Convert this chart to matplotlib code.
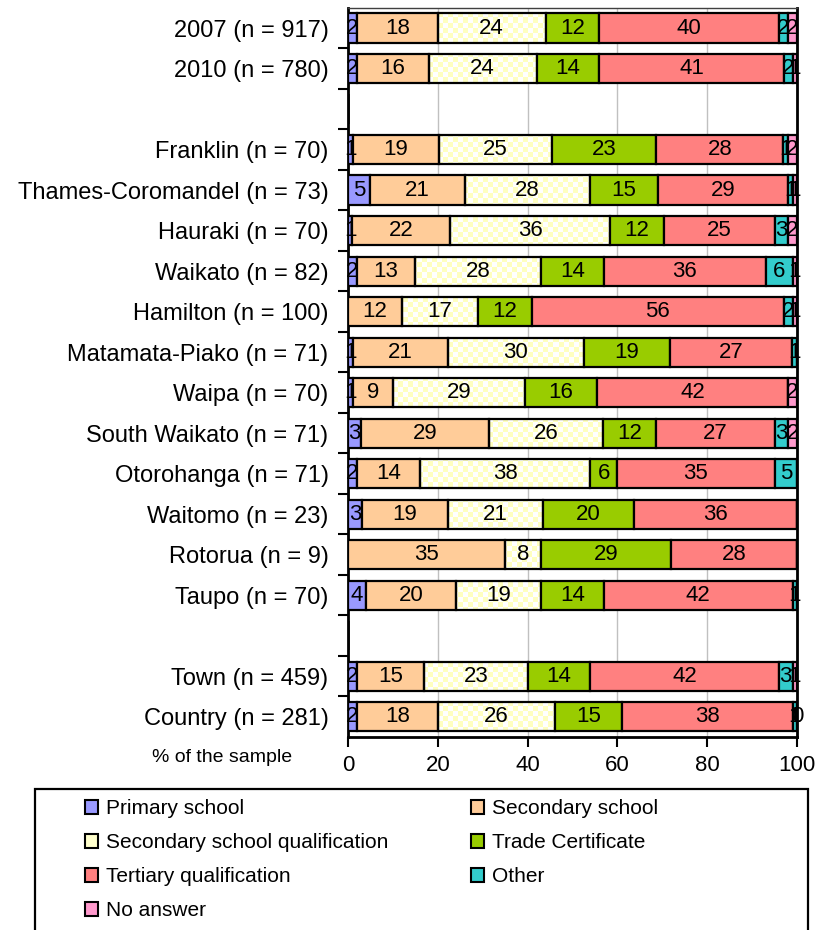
import numpy as np
import matplotlib
matplotlib.use("Agg")
import matplotlib.pyplot as plt
from matplotlib.colors import ListedColormap
from matplotlib.patches import Patch, Rectangle

plt.rcParams['font.family'] = ['Liberation Sans', 'DejaVu Sans']

# rows top to bottom, '' = spacer row
rows = ['2007 (n = 917)', '2010 (n = 780)', '',
        'Franklin (n = 70)', 'Thames-Coromandel (n = 73)', 'Hauraki (n = 70)',
        'Waikato (n = 82)', 'Hamilton (n = 100)', 'Matamata-Piako (n = 71)',
        'Waipa (n = 70)', 'South Waikato (n = 71)', 'Otorohanga (n = 71)',
        'Waitomo (n = 23)', 'Rotorua (n = 9)', 'Taupo (n = 70)', '',
        'Town (n = 459)', 'Country (n = 281)']

nan = np.nan
primary   = [2, 2, nan, 1, 5, 1, 2, nan, 1, 1, 3, 2, 3, nan, 4, nan, 2, 2]
secondary = [18, 16, nan, 19, 21, 22, 13, 12, 21, 9, 29, 14, 19, 35, 20, nan, 15, 18]
sec_qual  = [24, 24, nan, 25, 28, 36, 28, 17, 30, 29, 26, 38, 21, 8, 19, nan, 23, 26]
trade     = [12, 14, nan, 23, 15, 12, 14, 12, 19, 16, 12, 6, 20, 29, 14, nan, 14, 15]
tertiary  = [40, 41, nan, 28, 29, 25, 36, 56, 27, 42, 27, 35, 36, 28, 42, nan, 42, 38]
other     = [2, 2, nan, 1, 1, 3, 6, 2, 1, nan, 3, 5, nan, nan, 1, nan, 3, 1]
no_answer = [2, 1, nan, 2, 1, 2, 1, 1, nan, 2, 2, nan, nan, nan, nan, nan, 1, 0]

series = ['Primary school', 'Secondary school', 'Secondary school qualification',
          'Trade Certificate', 'Tertiary qualification', 'Other', 'No answer']
colors = ['#9999FF', '#FFCC99', '#FFFFCC', '#99CC00', '#FF8080', '#33CCCC', '#FF99CC']

values = np.array([primary, secondary, sec_qual, trade, tertiary, other, no_answer], dtype=float)
filled = np.nan_to_num(values)
totals = filled.sum(axis=0)
totals[totals == 0] = 1
shares = filled / totals * 100          # 100% stacked, like the original
lefts = np.vstack([np.zeros(len(rows)), np.cumsum(shares, axis=0)[:-1]])

fig = plt.figure(figsize=(8.24, 9.3), dpi=100)
ax = fig.add_axes([348 / 824, 1 - 737 / 930, 449 / 824, 729.25 / 930])
y = np.arange(len(rows))
h = 0.72

# checkerboard for the qualification series
board = (np.add.outer(np.arange(146), np.arange(90)) % 2).astype(float)
cmap = ListedColormap(['#FFFFFF', '#FFFFC0'])

for k in range(len(series)):
    fc = 'none' if k == 2 else colors[k]
    bars = ax.barh(y, shares[k], left=lefts[k], height=h, color=fc,
                   edgecolor='black', linewidth=1.6, zorder=3)
    if k == 2:
        for b in bars:
            im = ax.imshow(board, cmap=cmap, extent=(0, 100, 17.5, -0.5),
                           aspect='auto', interpolation='nearest', zorder=2)
            im.set_clip_path(b)
    for i in range(len(rows)):
        v = values[k, i]
        if np.isnan(v):
            continue
        ax.text(lefts[k, i] + shares[k, i] / 2, y[i], '%d' % v, ha='center',
                va='center', fontsize=16, color='black', zorder=4)

ax.set_xlim(0, 100)
ax.set_ylim(17.5, -0.5)
ax.set_yticks(y)
ax.set_yticklabels(rows, fontsize=17)
ax.set_yticks(np.arange(len(rows) - 1) + 0.5, minor=True)
ax.tick_params(axis='y', which='major', length=0, pad=14)
ax.tick_params(axis='y', which='minor', length=7, width=1.5, direction='out')
ax.set_xticks([0, 20, 40, 60, 80, 100])
ax.tick_params(axis='x', labelsize=16, length=7, width=1.5, direction='out', pad=6)
ax.grid(axis='x', color='#C0C0C0', linewidth=1)
ax.set_axisbelow(True)
for s in ['left', 'bottom', 'right']:
    ax.spines[s].set_linewidth(2)
ax.spines['top'].set_linewidth(1)
ax.spines['top'].set_color('#404040')

fig.text(152 / 824, 1 - 757 / 930, '% of the sample', fontsize=14, va='center', ha='left')

# legend box
fig.add_artist(Rectangle((35 / 824, -0.05), (808 - 35) / 824, (930 - 789) / 930 + 0.05,
                         transform=fig.transFigure, fill=False, edgecolor='black', linewidth=1.6))

handles = [Patch(facecolor=c, edgecolor='black', linewidth=1.5) for c in colors]
col1 = [0, 2, 4, 6]
col2 = [1, 3, 5]
leg_kw = dict(loc='upper left', frameon=False, borderpad=0, fontsize=15,
              handlelength=0.62, handleheight=0.62, handletextpad=0.35, labelspacing=0.72)
fig.legend([handles[i] for i in col1], [series[i] for i in col1],
           bbox_to_anchor=(75 / 824, 1 - 789 / 930), **leg_kw)
fig.legend([handles[i] for i in col2], [series[i] for i in col2],
           bbox_to_anchor=(461 / 824, 1 - 789 / 930), **leg_kw)

fig.savefig('out.png', dpi=100)
